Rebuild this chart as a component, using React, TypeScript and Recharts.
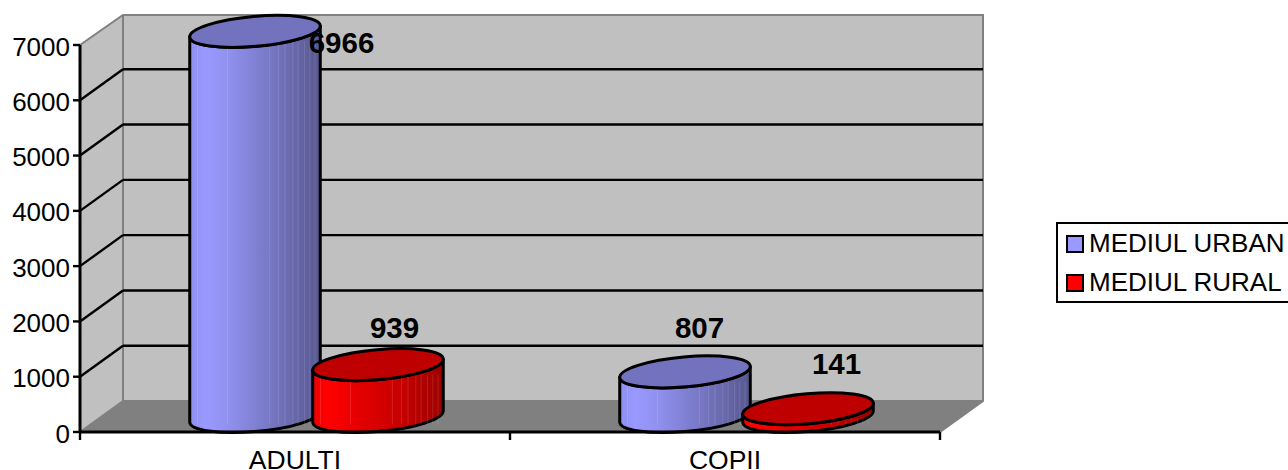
import React from 'react';
import { BarChart, Bar, XAxis, YAxis, CartesianGrid, Legend, LabelList } from 'recharts';

const categories = ['ADULTI', 'COPII'];
const urbanValues = [6966, 807];
const ruralValues = [939, 141];
const yTicks = [0, 1000, 2000, 3000, 4000, 5000, 6000, 7000];

const chartData = categories.map((name, i) => ({
  name,
  urban: urbanValues[i],
  rural: ruralValues[i],
}));

// plot box and the fake 3d depth
const LEFT = 80;
const TOP = 45;
const RIGHT = 940;
const BOTTOM = 432;
const DX = 43;
const DY = 31;
const BAND = (RIGHT - LEFT) / categories.length;

const FONT = '"Liberation Sans", Arial, sans-serif';

// excel puts the value labels in odd places, these are offsets from the bar centre / top
const urbanLabelShift = [
  { dx: 108, dy: -4 },
  { dx: 36, dy: -60 },
];
const ruralLabelShift = [
  { dx: 38, dy: -53 },
  { dx: 50, dy: -61 },
];

const seams = [0.06, 0.29, 0.61, 0.68, 0.73, 0.79, 0.83, 0.88, 0.92, 0.96];

const Gradients = () => (
  <defs>
    <linearGradient id="side-urban" x1="0" y1="0" x2="1" y2="0">
      <stop offset="0%" stopColor="#8f8ff0" />
      <stop offset="12%" stopColor="#9999ff" />
      <stop offset="30%" stopColor="#9090ee" />
      <stop offset="62%" stopColor="#7777c4" />
      <stop offset="100%" stopColor="#57578f" />
    </linearGradient>
    <linearGradient id="side-rural" x1="0" y1="0" x2="1" y2="0">
      <stop offset="0%" stopColor="#f00000" />
      <stop offset="12%" stopColor="#ff0000" />
      <stop offset="40%" stopColor="#e00000" />
      <stop offset="70%" stopColor="#c40000" />
      <stop offset="100%" stopColor="#9c0000" />
    </linearGradient>
  </defs>
);

const Walls = () => (
  <g>
    <polygon
      points={`${LEFT + DX},${TOP - 30} ${RIGHT + DX},${TOP - 30} ${RIGHT + DX},${BOTTOM - DY} ${LEFT + DX},${BOTTOM - DY}`}
      fill="#c0c0c0"
    />
    <polygon
      points={`${LEFT},${TOP} ${LEFT + DX},${TOP - 30} ${LEFT + DX},${BOTTOM - DY} ${LEFT},${BOTTOM}`}
      fill="#c0c0c0"
    />
    <polygon
      points={`${LEFT},${BOTTOM} ${LEFT + DX},${BOTTOM - DY} ${RIGHT + DX},${BOTTOM - DY} ${RIGHT},${BOTTOM}`}
      fill="#808080"
    />
    <polyline
      points={`${LEFT},${TOP} ${LEFT + DX},${TOP - 30} ${RIGHT + DX},${TOP - 30} ${RIGHT + DX},${BOTTOM - DY} ${RIGHT},${BOTTOM}`}
      fill="none"
      stroke="#808080"
      strokeWidth={2}
    />
    <polyline
      points={`${LEFT + DX},${TOP - 30} ${LEFT + DX},${BOTTOM - DY} ${LEFT},${BOTTOM}`}
      fill="none"
      stroke="#808080"
      strokeWidth={2}
    />
    <line x1={LEFT + DX} y1={BOTTOM - DY} x2={RIGHT + DX} y2={BOTTOM - DY} stroke="#808080" strokeWidth={2} />
  </g>
);

// the grid layer sits under everything, so the walls go in with its first line
const GridLine = (props: any) => {
  const { x1, x2, y1, index } = props;
  const inner = y1 > TOP + 1 && y1 < BOTTOM - 1;
  return (
    <g key={props.key}>
      {index === 0 && <Walls />}
      {inner && (
        <g stroke="#000" strokeWidth={2.4}>
          <line x1={x1} y1={y1} x2={x1 + DX} y2={y1 - DY} />
          <line x1={x1 + DX} y1={y1 - DY} x2={x2 + DX} y2={y1 - DY} />
        </g>
      )}
    </g>
  );
};

const Cylinder = (props: any) => {
  const { x, y, width, height, side, top } = props;
  const rx = width / 2;
  const ry = 15;
  const phi = (-5 * Math.PI) / 180;
  const cx = x + DX / 2 + rx;
  const cyTop = y - 15.5;
  const cyBottom = y + height - 15.5;
  // point of the tilted ellipse where it is widest
  const t = Math.atan((-ry / rx) * Math.tan(phi));
  const ex = rx * Math.cos(t) * Math.cos(phi) - ry * Math.sin(t) * Math.sin(phi);
  const ey = rx * Math.cos(t) * Math.sin(phi) + ry * Math.sin(t) * Math.cos(phi);
  const rot = -5;
  const body = `M ${cx - ex} ${cyTop - ey} L ${cx - ex} ${cyBottom - ey} A ${rx} ${ry} ${rot} 0 0 ${cx + ex} ${cyBottom + ey} L ${cx + ex} ${cyTop + ey} A ${rx} ${ry} ${rot} 0 1 ${cx - ex} ${cyTop - ey} Z`;
  return (
    <g>
      <path d={body} fill={`url(#${side})`} stroke="#000" strokeWidth={3} strokeLinejoin="round" />
      {seams.map((s) => (
        <line
          key={s}
          x1={cx - ex + 2 * ex * s}
          x2={cx - ex + 2 * ex * s}
          y1={cyTop + 10}
          y2={Math.max(cyTop + 10, cyBottom + 8)}
          stroke="#fff"
          strokeOpacity={0.12}
        />
      ))}
      <ellipse
        cx={cx}
        cy={cyTop}
        rx={rx}
        ry={ry}
        transform={`rotate(${rot} ${cx} ${cyTop})`}
        fill={top}
        stroke="#000"
        strokeWidth={3}
      />
    </g>
  );
};

const ValueLabel = (props: any) => {
  const { x, y, width, value, index, shifts } = props;
  const shift = shifts[index];
  return (
    <text
      x={x + width / 2 + shift.dx}
      y={y + shift.dy}
      textAnchor="middle"
      dominantBaseline="central"
      fontFamily={FONT}
      fontSize={29.5}
      fontWeight="bold"
      fill="#000"
    >
      {value}
    </text>
  );
};

const CategoryTick = (props: any) => {
  const { x, payload, index } = props;
  return (
    <g>
      <line x1={x - BAND / 2} y1={BOTTOM} x2={x - BAND / 2} y2={BOTTOM + 8} stroke="#000" strokeWidth={2.4} />
      {index === categories.length - 1 && (
        <line x1={x + BAND / 2} y1={BOTTOM} x2={x + BAND / 2} y2={BOTTOM + 8} stroke="#000" strokeWidth={2.4} />
      )}
      <text x={x} y={BOTTOM + 37} textAnchor="middle" fontFamily={FONT} fontSize={26.5} fill="#000">
        {payload.value}
      </text>
    </g>
  );
};

const ValueTick = (props: any) => {
  const { x, y, payload } = props;
  return (
    <text x={x} y={y + 1.5} textAnchor="end" dominantBaseline="central" fontFamily={FONT} fontSize={26} fill="#000">
      {payload.value}
    </text>
  );
};

const LegendBox = ({ payload }: any) => (
  <div
    style={{
      width: 240,
      height: 77,
      boxSizing: 'content-box',
      border: '2px solid #000',
      background: '#fff',
      fontFamily: FONT,
      fontSize: 26,
      color: '#000',
    }}
  >
    {payload.map((p: any) => (
      <div key={p.value} style={{ display: 'flex', alignItems: 'center', height: 39, paddingLeft: 8, whiteSpace: 'nowrap' }}>
        <span
          style={{
            display: 'inline-block',
            width: 14,
            height: 14,
            background: p.color,
            border: '2px solid #000',
            marginRight: 5,
          }}
        />
        {p.value}
      </div>
    ))}
  </div>
);

export default function App() {
  return (
    <div style={{ position: 'absolute', left: 0, top: 0, width: 1288, height: 470, overflow: 'hidden', background: '#fff' }}>
      <BarChart
        width={1288}
        height={470}
        data={chartData}
        margin={{ top: TOP, right: 1288 - RIGHT, bottom: 0, left: 0 }}
        barSize={131}
        barGap={-8}
      >
        <Gradients />
        <CartesianGrid vertical={false} horizontal={GridLine as any} />
        <XAxis
          dataKey="name"
          axisLine={{ stroke: '#000', strokeWidth: 3 }}
          tickLine={false}
          tick={CategoryTick}
          interval={0}
          height={470 - BOTTOM}
        />
        <YAxis
          domain={[0, 7000]}
          ticks={yTicks}
          interval={0}
          width={LEFT}
          axisLine={{ stroke: '#000', strokeWidth: 3 }}
          tickLine={{ stroke: '#000', strokeWidth: 2.4 }}
          tickSize={7}
          tickMargin={3}
          tick={ValueTick}
        />
        <Bar
          dataKey="urban"
          name="MEDIUL URBAN"
          fill="#9999ff"
          isAnimationActive={false}
          shape={(p: any) => <Cylinder {...p} side="side-urban" top="#7272bf" />}
        >
          <LabelList dataKey="urban" content={(p: any) => <ValueLabel {...p} shifts={urbanLabelShift} />} />
        </Bar>
        <Bar
          dataKey="rural"
          name="MEDIUL RURAL"
          fill="#ff0000"
          isAnimationActive={false}
          shape={(p: any) => <Cylinder {...p} side="side-rural" top="#bf0000" />}
        >
          <LabelList dataKey="rural" content={(p: any) => <ValueLabel {...p} shifts={ruralLabelShift} />} />
        </Bar>
        <Legend
          layout="vertical"
          align="center"
          verticalAlign="middle"
          itemSorter={null as any}
          content={LegendBox as any}
          wrapperStyle={{ left: 1056, top: 222, width: 244, bottom: 'auto', right: 'auto' }}
        />
      </BarChart>
    </div>
  );
}
